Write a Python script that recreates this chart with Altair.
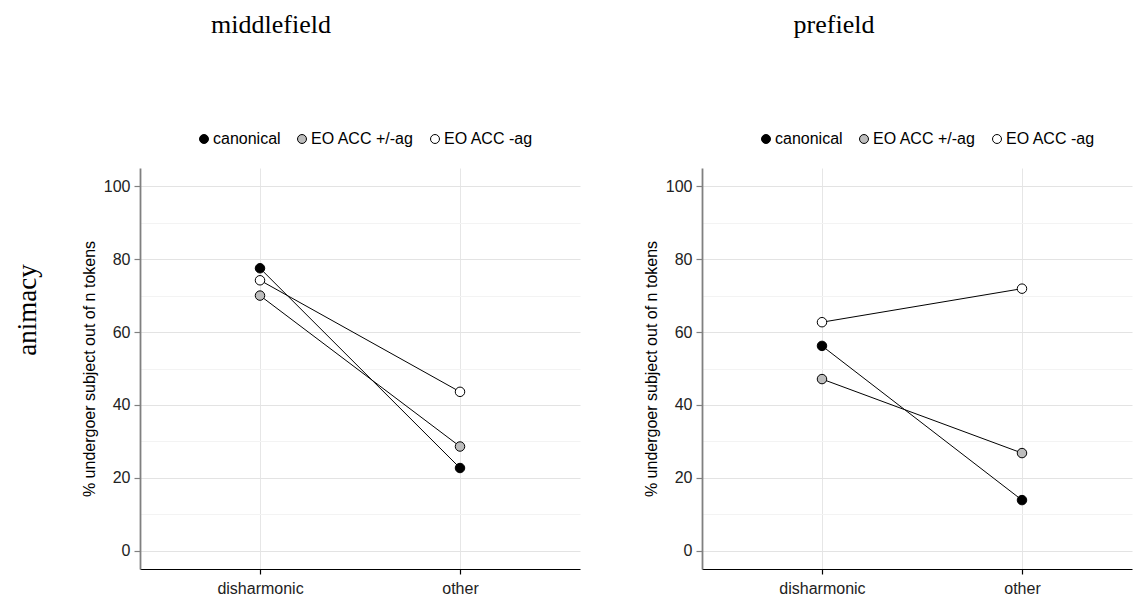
import altair as alt
import pandas as pd

categories = ["disharmonic", "other"]
groups = ["canonical", "EO ACC +/-ag", "EO ACC -ag"]
panels = ["middlefield", "prefield"]

# values: % undergoer subject, per panel, per group, per category
mf_canonical = [77.5, 22.7]
mf_pm = [70.0, 28.6]
mf_neg = [74.2, 43.6]
pf_canonical = [56.2, 13.9]
pf_pm = [47.1, 26.8]
pf_neg = [62.7, 71.9]

fill_colors = ["#000000", "#bdbdbd", "#ffffff"]
y_ticks = [0, 10, 20, 30, 40, 50, 60, 70, 80, 90, 100]

series = {
    "middlefield": [mf_canonical, mf_pm, mf_neg],
    "prefield": [pf_canonical, pf_pm, pf_neg],
}

SANS = "Liberation Sans"
SERIF = "Liberation Serif"


def panel(name, first, width, x_scale, title_dx):
    rows = []
    for g, vals in zip(groups, series[name]):
        for c, v in zip(categories, vals):
            rows.append({"cat": c, "value": v, "group": g})
    df = pd.DataFrame(rows)
    base = alt.Chart(df)

    x = alt.X(
        "cat:N",
        sort=categories,
        scale=x_scale,
        axis=alt.Axis(
            title=None, labelAngle=0, labelFont=SANS, labelFontSize=16,
            labelColor="#222222", labelPadding=6, domain=True, domainColor="#000000",
            domainWidth=1.2, ticks=True, tickColor="#000000",
            tickSize=5, tickWidth=1.2,
            grid=True, gridColor="#e6e6e6", gridWidth=1,
        ),
    )
    y = alt.Y(
        "value:Q",
        scale=alt.Scale(domain=[-5, 105], nice=False, zero=False),
        axis=alt.Axis(
            title="% undergoer subject out of n tokens", titleFont=SANS,
            titleFontSize=16, titleFontWeight="normal", titleColor="#000000",
            titlePadding=6,
            values=y_ticks,
            labelExpr="datum.value % 20 === 0 ? datum.label : ''",
            labelFont=SANS, labelFontSize=16, labelColor="#222222", labelPadding=4,
            domain=True, domainColor="#808080", domainWidth=1.8,
            tickColor="#808080", tickSize=6, tickWidth=1.2,
            tickOpacity={"condition": {"test": "datum.value % 20 === 0", "value": 1}, "value": 0},
            grid=True,
            gridColor={"condition": {"test": "datum.value % 20 === 0", "value": "#e3e3e3"}, "value": "#f3f3f3"},
            gridWidth=1,
        ),
    )

    lines = base.mark_line(color="#000000", strokeWidth=1).encode(
        x=x, y=y, detail="group:N"
    )
    points = base.mark_point(
        filled=True, shape="circle", size=90, stroke="#000000",
        strokeWidth=1, opacity=1,
    ).encode(
        x=x, y=y,
        fill=alt.Fill(
            "group:N",
            scale=alt.Scale(domain=groups, range=fill_colors),
            legend=alt.Legend(
                orient="none", legendX=56, legendY=-37, direction="horizontal",
                title=None, symbolType="circle", symbolSize=80,
                symbolStrokeColor="#000000", symbolStrokeWidth=1, symbolOpacity=1,
                labelFont=SANS, labelFontSize=16, labelColor="#000000",
                labelOffset=1, columnPadding=13,
            ),
        ),
    )
    layers = [lines, points]
    if first:
        lab = alt.Chart(pd.DataFrame({"t": ["animacy"]})).mark_text(
            angle=270, font=SERIF, fontSize=27, color="#000000"
        ).encode(text="t:N", x=alt.value(-112), y=alt.value(142))
        layers.append(lab)

    return alt.layer(*layers).properties(
        width=width, height=401,
        title=alt.TitleParams(
            name, font=SERIF, fontSize=26, fontWeight="normal", color="#000000",
            anchor="middle", offset=93, dx=title_dx,
        ),
    )


left = panel("middlefield", True, 440, alt.Scale(type="point", padding=0.6), -89)
right = panel("prefield", False, 430, alt.Scale(type="point", padding=0.575, align=0.5217), -83)

chart = alt.hconcat(left, right, spacing=63).resolve_legend(
    fill="independent"
).resolve_scale(fill="independent").configure(
    background="white", padding={"left": 14, "top": 12, "right": 2, "bottom": 2}
).configure_view(strokeOpacity=0)

chart.save("out.html", embed_options={"renderer": "svg", "actions": False})
